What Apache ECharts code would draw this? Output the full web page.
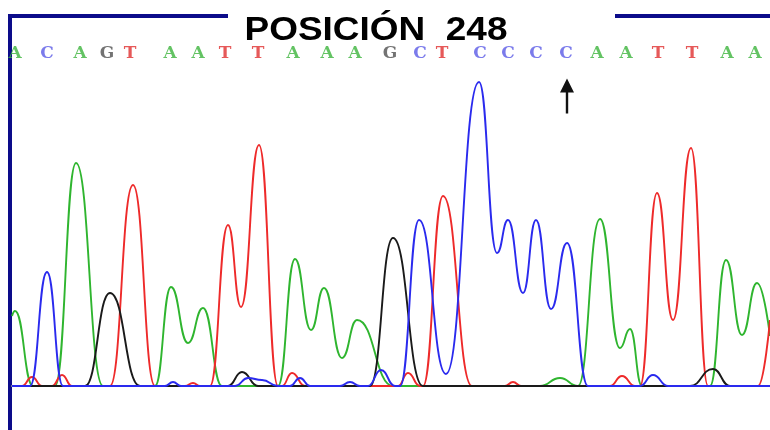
<!DOCTYPE html>
<html>
<head>
<meta charset="utf-8">
<title>POSICIÓN 248</title>
<script src="https://cdn.jsdelivr.net/npm/echarts@6/dist/echarts.min.js"></script>
<style>
  html, body { margin: 0; padding: 0; background: #fff; }
  #chart { width: 770px; height: 430px; }
</style>
</head>
<body>
<div id="chart"></div>
<script>
// Trace points: [scan position, signal]
// only peaks, troughs and feet; the line is smoothed between them
const traceA = [
  [12, 70], [15, 75], [33, 0], [55, 0], [76, 223], [103, 0], [155, 0],
  [171, 99], [188, 43], [203, 78], [222, 0], [278, 0], [295, 127], [311, 56],
  [324, 98], [342, 28], [357, 66], [393, 0], [540, 0], [560, 8], [578, 0],
  [600, 167], [620, 38], [630, 57], [642, 0], [710, 0], [726, 126], [742, 51],
  [757, 103], [770, 50]
];
const traceT = [
  [12, 0], [22, 0], [32, 9], [42, 0], [52, 0], [62, 11], [72, 0], [110, 0],
  [133, 201], [155, 0], [185, 0], [193, 3], [200, 0], [210, 0], [228, 161],
  [241, 79], [259, 241], [278, 0], [282, 0], [292, 13], [305, 0], [398, 0],
  [408, 13], [420, 0], [423, 0], [443, 190], [472, 0], [505, 0],
  [513, 4], [521, 0], [610, 0], [622, 10], [635, 0], [640, 0], [657, 193],
  [673, 66], [691, 238], [708, 0], [758, 0], [770, 66]
];
const traceG = [
  [12, 0], [85, 0], [110, 93], [140, 0], [228, 0], [242, 14], [258, 0],
  [370, 0], [393, 148], [423, 0], [690, 0], [713, 17], [730, 0], [770, 0]
];
const traceC = [
  [12, 0], [30, 0], [47, 114], [63, 0], [165, 0], [173, 4], [181, 0],
  [235, 0], [248, 8], [262, 6], [278, 0], [290, 0], [300, 8], [310, 0],
  [340, 0], [350, 4], [360, 0], [368, 0], [381, 16], [395, 0], [400, 0],
  [419, 166], [446, 12], [479, 304], [497, 133], [508, 166], [523, 93],
  [536, 166], [551, 77], [567, 143], [588, 0], [640, 0], [653, 11],
  [668, 0], [770, 0]
];

// Base calls along the top
const bases = [
  'A', 'C', 'A', 'G', 'T', 'A', 'A', 'T', 'T', 'A', 'A', 'A', 'G',
  'C', 'T', 'C', 'C', 'C', 'C', 'A', 'A', 'T', 'T', 'A', 'A'
];
const basePositions = [
  15, 47, 80, 107, 130, 170, 198, 225, 258, 293, 327, 355, 390,
  420, 442, 480, 508, 536, 566, 597, 626, 658, 692, 727, 755
];
const baseRowLevel = 332;

const titleText = 'POSICIÓN  248';
const markedPosition = 567;
const arrowLevel = 290;

const traceColors = { A: '#2fb52f', C: '#2a2aee', G: '#1a1a1a', T: '#ee2a2a' };
const letterColors = { A: '#3cb43c', C: '#5a5ae6', G: '#505050', T: '#e03030' };
const frameColor = '#0c0c8a';

const chart = echarts.init(document.getElementById('chart'));

function trace(name, data, color) {
  return {
    name: name,
    type: 'line',
    data: data,
    smooth: 0.5,
    smoothMonotone: 'x',
    showSymbol: false,
    silent: true,
    lineStyle: { width: 1.9, color: color },
    itemStyle: { color: color }
  };
}

const blue = trace('C', traceC, traceColors.C);
blue.markPoint = {
  silent: true,
  symbol: 'path://M7,0 L14,14 L8.2,14 L8.2,35 L5.8,35 L5.8,14 L0,14 Z',
  symbolSize: [14, 35],
  itemStyle: { color: '#111' },
  label: { show: false },
  data: [{ coord: [markedPosition, arrowLevel] }]
};

chart.setOption({
  animation: false,
  backgroundColor: '#fff',
  grid: { left: 12, right: 0, top: 15, bottom: 44 },
  xAxis: {
    type: 'value',
    min: 12,
    max: 770,
    axisLine: { show: true, onZero: false, lineStyle: { color: '#a0a0a0', width: 2 } },
    axisTick: { show: false },
    axisLabel: { show: false },
    splitLine: { show: false }
  },
  yAxis: {
    type: 'value',
    min: 0,
    max: 371,
    axisLine: { show: false },
    axisTick: { show: false },
    axisLabel: { show: false },
    splitLine: { show: false }
  },
  series: [
    trace('A', traceA, traceColors.A),
    trace('T', traceT, traceColors.T),
    trace('G', traceG, traceColors.G),
    blue,
    {
      name: 'bases',
      type: 'scatter',
      silent: true,
      symbolSize: 1,
      itemStyle: { color: 'rgba(0,0,0,0)' },
      data: basePositions.map((x, i) => ({
        value: [x, baseRowLevel],
        label: { color: letterColors[bases[i]] }
      })),
      label: {
        show: true,
        position: 'inside',
        formatter: (p) => bases[p.dataIndex],
        fontFamily: 'DejaVu Serif',
        fontWeight: 'bold',
        fontSize: 17
      }
    }
  ],
  graphic: [
    {
      type: 'line',
      shape: { x1: 10, y1: 14, x2: 10, y2: 430 },
      style: { stroke: frameColor, lineWidth: 4 }
    },
    {
      type: 'line',
      shape: { x1: 8, y1: 16, x2: 228, y2: 16 },
      style: { stroke: frameColor, lineWidth: 4 }
    },
    {
      type: 'line',
      shape: { x1: 615, y1: 16, x2: 770, y2: 16 },
      style: { stroke: frameColor, lineWidth: 4 }
    },
    {
      type: 'text',
      x: 376,
      y: 31,
      scaleX: 1.12,
      style: {
        text: titleText,
        font: 'bold 33px "Liberation Sans", Arial, sans-serif',
        fill: '#000',
        align: 'center',
        verticalAlign: 'middle'
      }
    }
  ]
});
</script>
</body>
</html>
